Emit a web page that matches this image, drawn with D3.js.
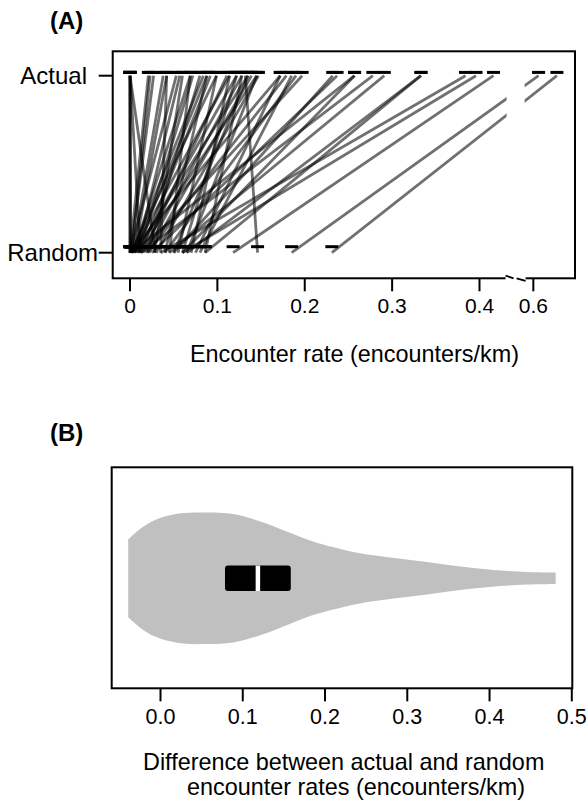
<!DOCTYPE html>
<html>
<head>
<meta charset="utf-8">
<script src="https://cdn.jsdelivr.net/npm/d3@7"></script>
<style>
  body { margin: 0; background: #fff; }
  text { font-family: "Liberation Sans", Arial, sans-serif; fill: #000; }
</style>
</head>
<body>
<div id="chart"></div>
<script>
// panel A: encounter rate per individual, random vs actual
var randomRates = [0, 0, 0.001, 0.029, 0.012, 0.000, 0.002, 0.001, 0.003, 0.005,
  0.000, 0.008, 0.004, 0.010, 0.002, 0.006, 0.012, 0.001, 0.015, 0.003,
  0.008, 0.018, 0.146, 0.005, 0.022, 0.010, 0.030, 0.000, 0.020, 0.040,
  0.012, 0.050, 0.025, 0.002, 0.060, 0.013, 0.045, 0.065, 0.086, 0.035,
  0.060, 0.118, 0.185, 0.231, 0.045, 0.055, 0.070, 0.086, 0.075, 0.040,
  0.050, 0.065, 0.080, 0.028, 0.060, 0.035, 0.020];
var actualRates = [0, 0, 0, 0, 0, 0.021, 0.023, 0.027, 0.038, 0.042,
  0.053, 0.057, 0.069, 0.072, 0.084, 0.088, 0.092, 0.099, 0.111, 0.114,
  0.122, 0.128, 0.132, 0.135, 0.139, 0.145, 0.147, 0.172, 0.179, 0.190,
  0.197, 0.232, 0.237, 0.257, 0.257, 0.278, 0.291, 0.333, 0.333, 0.384,
  0.396, 0.416, 0.606, 0.627, 0.069, 0.099, 0.114, 0.128, 0.172, 0.088,
  0.135, 0.145, 0.185, 0.060, 0.122, 0.042, 0.080];
var levelLabels = ["Random", "Actual"];
var ticksA = [0, 0.1, 0.2, 0.3, 0.4, 0.6];
var tickLabelsA = ["0", "0.1", "0.2", "0.3", "0.4", "0.6"];
var axisBreak = [0.431, 0.59];

// panel B: difference actual - random, violin + box
var violinX = [-0.0386, -0.02, 0.0, 0.028, 0.057, 0.089, 0.122, 0.154, 0.186, 0.211,
  0.243, 0.28, 0.32, 0.373, 0.414, 0.446, 0.481];
var violinDensity = [3.88, 5.17, 6.0, 6.5, 6.55, 6.4, 5.67, 4.67, 3.67, 3.1,
  2.5, 2.07, 1.67, 1.1, 0.77, 0.63, 0.57];
var boxStats = [0.079, 0.119, 0.159]; // q1, median, q3
var ticksB = [0, 0.1, 0.2, 0.3, 0.4, 0.5];
var tickLabelsB = ["0.0", "0.1", "0.2", "0.3", "0.4", "0.5"];

var W = 588, H = 804;
var svg = d3.select('#chart').append('svg')
  .attr('width', W)
  .attr('height', H)
  .attr('viewBox', '0 0 ' + W + ' ' + H);

svg.append('rect').attr('width', W).attr('height', H).attr('fill', '#fff');

// ---------- panel A ----------
var boxA = {l: 112.7, r: 575, t: 51.3, b: 278.3};
var xLin = d3.scaleLinear().domain([0, 0.4]).range([130, 479.5]);
var gapPx = 18;
function xA(v) {
  if (v <= axisBreak[0]) return xLin(v);
  return xLin(axisBreak[0]) + gapPx + xLin(v - axisBreak[1]) - xLin(0);
}
var yA = d3.scalePoint().domain(levelLabels).range([252.7, 75.7]);

var pairs = randomRates.map(function(r, i) { return {r: r, a: actualRates[i]}; });

var gA = svg.append('g');

gA.selectAll('line.pair')
  .data(pairs)
  .enter()
  .append('line')
  .attr('class', 'pair')
  .attr('x1', function(d) { return xA(d.r); })
  .attr('y1', yA('Random'))
  .attr('x2', function(d) { return xA(d.a); })
  .attr('y2', yA('Actual'))
  .attr('stroke', '#000')
  .attr('stroke-opacity', 0.56)
  .attr('stroke-width', 2.8);

// break gap through the plot
gA.append('rect')
  .attr('x', xLin(axisBreak[0]))
  .attr('y', boxA.t + 1)
  .attr('width', gapPx)
  .attr('height', boxA.b - boxA.t - 2)
  .attr('fill', '#fff');

// dash markers
var dashHalf = 6.5;
gA.selectAll('line.dashR')
  .data(randomRates)
  .enter()
  .append('line')
  .attr('class', 'dashR')
  .attr('x1', function(d) { return xA(d) - dashHalf; })
  .attr('x2', function(d) { return xA(d) + dashHalf; })
  .attr('y1', yA('Random') - 6)
  .attr('y2', yA('Random') - 6)
  .attr('stroke', '#000')
  .attr('stroke-width', 3);

gA.selectAll('line.dashA')
  .data(actualRates)
  .enter()
  .append('line')
  .attr('class', 'dashA')
  .attr('x1', function(d) { return xA(d) - dashHalf; })
  .attr('x2', function(d) { return xA(d) + dashHalf; })
  .attr('y1', yA('Actual') - 3.3)
  .attr('y2', yA('Actual') - 3.3)
  .attr('stroke', '#000')
  .attr('stroke-width', 3);

// frame
gA.append('rect')
  .attr('x', boxA.l).attr('y', boxA.t)
  .attr('width', boxA.r - boxA.l).attr('height', boxA.b - boxA.t)
  .attr('fill', 'none').attr('stroke', '#000').attr('stroke-width', 2);

// x axis with break
var axA = gA.append('g')
  .attr('transform', 'translate(0,' + boxA.b + ')');
axA.selectAll('line.tick')
  .data(ticksA)
  .enter()
  .append('line')
  .attr('x1', function(d) { return xA(d); })
  .attr('x2', function(d) { return xA(d); })
  .attr('y1', 0).attr('y2', 13)
  .attr('stroke', '#000').attr('stroke-width', 2);
axA.selectAll('text')
  .data(ticksA)
  .enter()
  .append('text')
  .attr('x', function(d) { return xA(d); })
  .attr('y', 35)
  .attr('text-anchor', 'middle')
  .style('font-size', '21px')
  .text(function(d, i) { return tickLabelsA[i]; });

var bx = xLin(axisBreak[0]);
axA.append('rect')
  .attr('x', bx - 1).attr('y', -2).attr('width', gapPx + 2).attr('height', 4)
  .attr('fill', '#fff');
axA.append('line')
  .attr('x1', bx - 1).attr('y1', -2.6).attr('x2', bx + 7).attr('y2', 0)
  .attr('stroke', '#000').attr('stroke-width', 1.8);
axA.append('line')
  .attr('x1', bx + 10).attr('y1', 0).attr('x2', bx + gapPx + 1).attr('y2', 2.6)
  .attr('stroke', '#000').attr('stroke-width', 1.8);

// y axis labels
var ylabA = gA.selectAll('g.ylab')
  .data(levelLabels)
  .enter()
  .append('g')
  .attr('class', 'ylab');
ylabA.append('line')
  .attr('x1', boxA.l - 14).attr('x2', boxA.l)
  .attr('y1', function(d) { return yA(d); })
  .attr('y2', function(d) { return yA(d); })
  .attr('stroke', '#000').attr('stroke-width', 2);
ylabA.append('text')
  .attr('x', function(d) { return d === 'Random' ? 98 : 87; })
  .attr('y', function(d) { return yA(d) + 8; })
  .attr('text-anchor', 'end')
  .style('font-size', '24px')
  .text(function(d) { return d; });

gA.append('text')
  .attr('x', 190).attr('y', 362)
  .style('font-size', '23.4px')
  .text('Encounter rate (encounters/km)');

svg.append('text')
  .attr('x', 50).attr('y', 29)
  .style('font-size', '24px').style('font-weight', 'bold')
  .text('(A)');

// ---------- panel B ----------
var boxB = {l: 111.7, r: 572.3, t: 467.3, b: 688.3};
var xB = d3.scaleLinear().domain([0, 0.5]).range([160, 571.3]);
var cy = 578.3;
var wB = d3.scaleLinear().domain([0, 6.55]).range([0, 65.7]);

var gB = svg.append('g');

var violin = violinX.map(function(x, i) { return {x: x, d: violinDensity[i]}; });
var area = d3.area()
  .x(function(d) { return xB(d.x); })
  .y0(function(d) { return cy - wB(d.d); })
  .y1(function(d) { return cy + wB(d.d); })
  .curve(d3.curveCatmullRom);

gB.append('path')
  .datum(violin)
  .attr('d', area)
  .attr('fill', '#c0c0c0');

gB.append('rect')
  .attr('x', xB(boxStats[0]))
  .attr('y', cy - 12.7)
  .attr('width', xB(boxStats[2]) - xB(boxStats[0]))
  .attr('height', 25.4)
  .attr('rx', 3).attr('ry', 3)
  .attr('fill', '#000');
gB.append('line')
  .attr('x1', xB(boxStats[1])).attr('x2', xB(boxStats[1]))
  .attr('y1', cy - 12.7).attr('y2', cy + 12.7)
  .attr('stroke', '#fff').attr('stroke-width', 4.5);

gB.append('rect')
  .attr('x', boxB.l).attr('y', boxB.t)
  .attr('width', boxB.r - boxB.l).attr('height', boxB.b - boxB.t)
  .attr('fill', 'none').attr('stroke', '#000').attr('stroke-width', 2);

var axB = gB.append('g')
  .attr('transform', 'translate(0,' + boxB.b + ')')
  .call(d3.axisBottom(xB)
    .tickValues(ticksB)
    .tickSize(13)
    .tickPadding(7)
    .tickFormat(function(d, i) { return tickLabelsB[i]; }));
axB.select('.domain').remove();
axB.selectAll('.tick line').attr('stroke', '#000').attr('stroke-width', 2);
axB.selectAll('.tick text')
  .style('font-size', '21.5px')
  .style('font-family', '"Liberation Sans", Arial, sans-serif')
  .attr('fill', '#000');

gB.append('text')
  .attr('x', 143).attr('y', 770)
  .style('font-size', '23.4px')
  .text('Difference between actual and random');
gB.append('text')
  .attr('x', 187).attr('y', 795)
  .style('font-size', '23.4px')
  .text('encounter rates (encounters/km)');

svg.append('text')
  .attr('x', 50).attr('y', 441)
  .style('font-size', '24px').style('font-weight', 'bold')
  .text('(B)');
</script>
</body>
</html>
